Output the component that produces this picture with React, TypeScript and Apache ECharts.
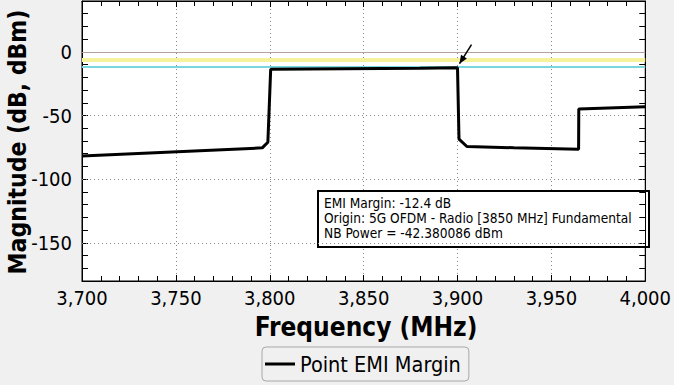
import React, { useEffect, useRef } from "react";
import * as echarts from "echarts";

const FONT = "'DejaVu Sans Condensed', 'DejaVu Sans', sans-serif";

const freqMHz = [3700, 3796, 3799, 3800.5, 3840, 3880, 3900, 3900.8, 3905, 3930, 3964.5, 3964.6, 4000];
const marginDb = [-81.7, -75.4, -71, -13.6, -13.2, -12.8, -12.4, -68.5, -74.3, -75.3, -76.5, -44.8, -43.1];

const yGridValues = [-50, -100, -150];
const refLines = [
  { value: 0, color: "#b8a0a0", width: 1 },
  { value: -6.2, color: "#f6f29c", width: 4 },
  { value: -11.6, color: "#78d6de", width: 2 },
];
const annotationLines = [
  "EMI Margin: -12.4 dB",
  "Origin: 5G OFDM - Radio [3850 MHz] Fundamental",
  "NB Power = -42.380086 dBm",
];
const arrowTarget = [3900, -12.4];
const seriesName = "Point EMI Margin";

export default function App() {
  const ref = useRef<HTMLDivElement>(null);
  useEffect(() => {
    document.body.style.margin = "0";
    const chart = echarts.init(ref.current!, null, { renderer: "svg" });
    const data = freqMHz.map((f, i) => [f, marginDb[i]]);
    const axisCommon = {
      axisLine: { show: true, onZero: false, lineStyle: { color: "#000", width: 1 } },
      axisTick: { show: true, inside: true, length: 6, lineStyle: { color: "#000" } },
    };
    chart.setOption({
      animation: false,
      backgroundColor: "#f0f0f0",
      textStyle: { fontFamily: FONT },
      grid: { left: 82, right: 27, top: 1, height: 280, show: true, backgroundColor: "#fff", borderColor: "#000", borderWidth: 1 },
      legend: {
        left: 262,
        top: 347,
        data: [{ name: seriesName, icon: "rect" }],
        itemWidth: 30,
        itemHeight: 3,
        padding: [6, 8, 6, 3],
        borderColor: "#a8a8a8",
        borderWidth: 1,
        borderRadius: 4,
        backgroundColor: "#f0f0f0",
        textStyle: { fontSize: 21.5, color: "#000", fontFamily: FONT },
      },
      xAxis: [
        {
          type: "value",
          min: 3700,
          max: 4000,
          interval: 50,
          position: "bottom",
          ...axisCommon,
          minorTick: { show: true, splitNumber: 5, length: 5, lineStyle: { color: "#000" } },
          axisLabel: {
            fontSize: 20,
            color: "#000",
            margin: 7,
            formatter: (v: number) => v.toLocaleString("en-US"),
          },
          splitLine: { show: true, lineStyle: { color: "#888", type: [1, 3], width: 1 } },
        },
        {
          type: "value",
          min: 3700,
          max: 4000,
          interval: 50,
          position: "top",
          ...axisCommon,
          minorTick: { show: true, splitNumber: 5, length: 5, lineStyle: { color: "#000" } },
          axisLabel: { show: false },
          splitLine: { show: false },
        },
      ],
      yAxis: [
        {
          type: "value",
          min: -180,
          max: 40,
          interval: 10,
          position: "left",
          ...axisCommon,
          axisLabel: {
            fontSize: 20,
            color: "#000",
            margin: 10,
            formatter: (v: number) => (v % 50 === 0 ? String(v) : ""),
          },
          splitLine: { show: false },
        },
        {
          type: "value",
          min: -180,
          max: 40,
          interval: 10,
          position: "right",
          ...axisCommon,
          axisLabel: { show: false },
          splitLine: { show: false },
        },
      ],
      series: [
        {
          name: seriesName,
          type: "line",
          data,
          showSymbol: false,
          symbol: "none",
          color: "#000",
          lineStyle: { color: "#000", width: 3 },
          z: 5,
          markLine: {
            silent: true,
            symbol: "none",
            label: { show: false },
            animation: false,
            data: [
              ...yGridValues.map((v) => ({ yAxis: v, lineStyle: { color: "#888", type: [1, 3], width: 1 } })),
              ...refLines.map((r) => ({ yAxis: r.value, lineStyle: { color: r.color, type: "solid", width: r.width } })),
            ],
          },
        },
      ],
    });

    const p = chart.convertToPixel({ xAxisIndex: 0, yAxisIndex: 0 }, arrowTarget) as number[];
    const tip = [p[0] + 2, p[1] - 4];
    const tail = [tip[0] + 12, tip[1] - 19];
    const ang = Math.atan2(tail[1] - tip[1], tail[0] - tip[0]);
    const hl = 9, hw = 0.4;
    const h1 = [tip[0] + hl * Math.cos(ang + hw), tip[1] + hl * Math.sin(ang + hw)];
    const h2 = [tip[0] + hl * Math.cos(ang - hw), tip[1] + hl * Math.sin(ang - hw)];

    chart.setOption({
      graphic: [
        {
          type: "line",
          shape: { x1: tip[0], y1: tip[1], x2: tail[0], y2: tail[1] },
          style: { stroke: "#000", lineWidth: 1.5 },
          z: 20,
        },
        {
          type: "polygon",
          shape: { points: [tip, h1, h2] },
          style: { fill: "#000" },
          z: 20,
        },
        {
          type: "group",
          left: 317,
          top: 190,
          z: 30,
          children: [
            {
              type: "rect",
              shape: { x: 0, y: 0, width: 331, height: 56 },
              style: { fill: "#fff", stroke: "#000", lineWidth: 2 },
            },
            {
              type: "text",
              x: 6,
              y: 4,
              style: {
                text: annotationLines.join("\n"),
                fill: "#000",
                font: `13.6px ${FONT}`,
                lineHeight: 15,
              },
            },
          ],
        },
        {
          type: "text",
          x: 17,
          y: 142,
          rotation: Math.PI / 2,
          style: {
            text: "Magnitude (dB, dBm)",
            fill: "#000",
            font: `bold 24.5px ${FONT}`,
            align: "center",
            verticalAlign: "middle",
          },
        },
        {
          type: "text",
          x: 366,
          y: 327,
          style: {
            text: "Frequency (MHz)",
            fill: "#000",
            font: `bold 26px ${FONT}`,
            align: "center",
            verticalAlign: "middle",
          },
        },
      ],
    });
    return () => chart.dispose();
  }, []);
  return <div ref={ref} style={{ width: 674, height: 385, background: "#f0f0f0" }} />;
}
